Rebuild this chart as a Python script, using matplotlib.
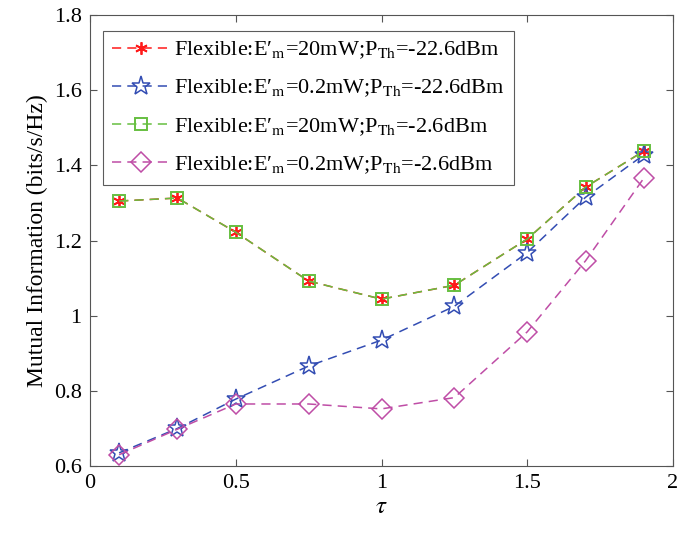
import numpy as np
import matplotlib
matplotlib.use("Agg")
import matplotlib.pyplot as plt

plt.rcParams['font.family'] = ['Liberation Serif', 'DejaVu Serif']
plt.rcParams['mathtext.fontset'] = 'stix'

# datos
tau = [0.1, 0.3, 0.5, 0.75, 1.0, 1.25, 1.5, 1.7, 1.9]
mi_20mw_226 = [1.305, 1.313, 1.222, 1.092, 1.044, 1.081, 1.204, 1.342, 1.438]
mi_02mw_226 = [0.635, 0.700, 0.778, 0.866, 0.935, 1.025, 1.168, 1.315, 1.428]
mi_20mw_26 = [1.305, 1.313, 1.222, 1.092, 1.044, 1.081, 1.204, 1.342, 1.438]
mi_02mw_26 = [0.630, 0.698, 0.765, 0.765, 0.752, 0.782, 0.957, 1.146, 1.366]

etiquetas = [
    "Flexible:E\u2032$_{\\rm m}$=20mW;P$_{\\rm Th}$=-22.6dBm",
    "Flexible:E\u2032$_{\\rm m}$=0.2mW;P$_{\\rm Th}$=-22.6dBm",
    "Flexible:E\u2032$_{\\rm m}$=20mW;P$_{\\rm Th}$=-2.6dBm",
    "Flexible:E\u2032$_{\\rm m}$=0.2mW;P$_{\\rm Th}$=-2.6dBm",
]

fig = plt.figure(figsize=(6.99, 5.34), dpi=100)
ax = fig.add_axes([90/699, 1-466/534, (673-90)/699, (466-15)/534])

dash = (0, (6, 4))
ax.plot(tau, mi_20mw_226, color=(1.0, 0.1, 0.1), ls=dash, lw=1.1, marker=(6, 2, 0),
        ms=9, mew=1.3, label=etiquetas[0], zorder=3)
ax.plot(tau, mi_02mw_226, color=(0.20, 0.30, 0.70), ls=dash, lw=1.1, marker='*',
        ms=14, mfc='none', mew=1.1, label=etiquetas[1], zorder=3)
ax.plot(tau, mi_20mw_26, color=(0.40, 0.75, 0.25), ls=dash, lw=1.1, marker='s',
        ms=9, mfc='none', mew=1.4, label=etiquetas[2], zorder=4)
ax.plot(tau, mi_02mw_26, color=(0.75, 0.30, 0.65), ls=dash, lw=1.1, marker='D',
        ms=10, mfc='none', mew=1.1, label=etiquetas[3], zorder=3)

ax.set_xlim(0, 2)
ax.set_ylim(0.6, 1.8)
ax.set_xticks([0, 0.5, 1, 1.5, 2])
ax.set_xticklabels(['0', '0.5', '1', '1.5', '2'])
ax.set_yticks([0.6, 0.8, 1.0, 1.2, 1.4, 1.6, 1.8])
ax.set_yticklabels(['0.6', '0.8', '1', '1.2', '1.4', '1.6', '1.8'])
ax.tick_params(direction='in', top=True, right=True, labelsize=16, length=5,
               color='#555555', pad=6)
for s in ax.spines.values():
    s.set_color('#555555')
    s.set_linewidth(0.8)

ax.set_xlabel(r'$\tau$', fontsize=18, labelpad=2)
ax.set_ylabel('Mutual Information (bits/s/Hz)', fontsize=17, labelpad=4)

leg = ax.legend(loc='upper left', bbox_to_anchor=(0.015, 0.975), fontsize=16,
                frameon=True, fancybox=False, edgecolor='#333333',
                handlelength=2.6, handletextpad=0.2, borderpad=0.4,
                labelspacing=0.75, borderaxespad=0.2)
leg.get_frame().set_linewidth(0.8)

fig.savefig('out.png', dpi=100)
